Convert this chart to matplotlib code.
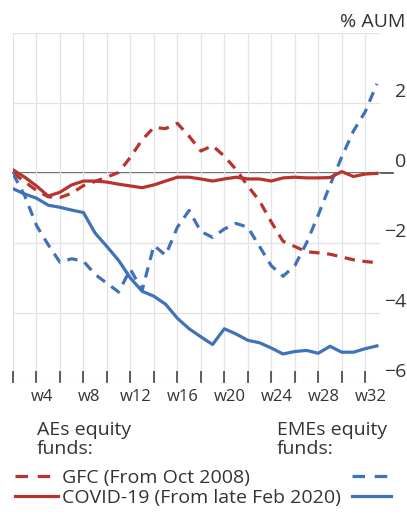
import numpy as np
import matplotlib
matplotlib.use('Agg')
import matplotlib.pyplot as plt
from matplotlib.lines import Line2D
from matplotlib.transforms import ScaledTranslation

plt.rcParams['font.family'] = ['Open Sans', 'DejaVu Sans']
plt.rcParams['lines.scale_dashes'] = False

# weekly data, % of AUM
weeks = np.arange(1, 33)
aes_gfc = [0.0, -0.25, -0.5, -0.68, -0.7, -0.58, -0.36, -0.24, -0.12, 0.02, 0.45, 0.95,
           1.3, 1.27, 1.42, 1.05, 0.63, 0.78, 0.48, 0.1, -0.37, -0.8, -1.4, -1.95,
           -2.1, -2.25, -2.28, -2.32, -2.4, -2.48, -2.53, -2.56]
aes_covid = [0.09, -0.12, -0.37, -0.66, -0.55, -0.34, -0.23, -0.23, -0.26, -0.32, -0.37, -0.42,
             -0.34, -0.23, -0.12, -0.12, -0.17, -0.23, -0.17, -0.12, -0.17, -0.17, -0.23, -0.14,
             -0.12, -0.14, -0.14, -0.13, 0.04, -0.1, -0.03, -0.01]
emes_gfc = [-0.02, -0.65, -1.5, -2.05, -2.55, -2.45, -2.52, -2.9, -3.15, -3.4, -2.75, -3.35,
            -2.07, -2.35, -1.55, -1.07, -1.67, -1.84, -1.6, -1.44, -1.55, -2.1, -2.65, -2.95,
            -2.65, -2.0, -1.2, -0.35, 0.46, 1.2, 1.75, 2.55]
emes_covid = [-0.45, -0.6, -0.72, -0.92, -0.98, -1.06, -1.13, -1.72, -2.1, -2.5, -3.0, -3.38,
              -3.52, -3.75, -4.15, -4.45, -4.68, -4.9, -4.45, -4.6, -4.78, -4.85, -5.0, -5.17,
              -5.1, -5.07, -5.15, -4.95, -5.12, -5.12, -5.02, -4.94]

xtick_weeks = [4, 8, 12, 16, 20, 24, 28, 32]
xtick_labels = ['w%d' % w for w in xtick_weeks]
yticks = [-6, -4, -2, 0, 2, 4]
ytick_labels = ['\u22126', '\u22124', '\u22122', '0', '2', '']

red = '#b8332e'
blue = '#3f72b8'
txt = '#333333'
dash = (0, (7.5, 5.5))
leg_dash = (0, (9, 7))
lw = 2.3

fig = plt.figure(figsize=(4.07, 5.18), dpi=100)
ax = fig.add_axes([13/407, 1 - 383/518, 367/407, 350/518])

ax.plot(weeks, aes_gfc, color=red, lw=lw, linestyle=dash)
ax.plot(weeks, emes_gfc, color=blue, lw=lw, linestyle=dash)
ax.plot(weeks, aes_covid, color=red, lw=lw)
ax.plot(weeks, emes_covid, color=blue, lw=lw)

ax.axhline(0, color='#444444', lw=1.2, zorder=1, xmax=1.035, clip_on=False)

ax.set_xlim(1, 32.26)
ax.set_ylim(-6, 4)
for s in ax.spines.values():
    s.set_visible(False)

ax.set_xticks(np.arange(1, 32, 2), minor=True)
ax.set_xticks(xtick_weeks, labels=xtick_labels)
ax.tick_params(axis='x', which='major', length=0, pad=4, labelsize=12, labelcolor=txt)
ax.tick_params(axis='x', which='minor', direction='in', length=8.5, width=1.2, color='#444444')
ax.grid(True, axis='x', which='minor', color='#e3e3e3', lw=0.9)
for lab in ax.get_xticklabels():
    lab.set_transform(lab.get_transform() + ScaledTranslation(-6/100, 0, fig.dpi_scale_trans))

ax.yaxis.tick_right()
ax.set_yticks(yticks, labels=ytick_labels)
ax.tick_params(axis='y', length=0, pad=26/1.389, labelsize=14, labelcolor=txt)
ax.grid(True, axis='y', color='#e3e3e3', lw=0.9)
for lab in ax.get_yticklabels():
    lab.set_horizontalalignment('right')
    lab.set_transform(lab.get_transform() + ScaledTranslation(0, 13/100, fig.dpi_scale_trans))

fig.text(405/407, 1 - 22/518, '% AUM', ha='right', va='center', fontsize=14, color=txt)

# legend
fig.text(37/407, 1 - 421/518, 'AEs equity\nfunds:', ha='left', va='top', fontsize=14,
         color=txt, linespacing=1.05)
fig.text(277/407, 1 - 421/518, 'EMEs equity\nfunds:', ha='left', va='top', fontsize=14,
         color=txt, linespacing=1.05)
h_red = [Line2D([], [], color=red, lw=lw, linestyle=leg_dash), Line2D([], [], color=red, lw=lw)]
h_blue = [Line2D([], [], color=blue, lw=lw, linestyle=leg_dash), Line2D([], [], color=blue, lw=lw)]
leg1 = fig.legend(h_red, ['GFC (From Oct 2008)', 'COVID-19 (From late Feb 2020)'],
                  loc='upper left', bbox_to_anchor=(15/407, 1 - 469/518), frameon=False,
                  borderpad=0, borderaxespad=0, handlelength=2.2, handletextpad=0.2,
                  labelspacing=0.1, fontsize=14, labelcolor=txt)
leg2 = fig.legend(h_blue, ['', ''],
                  loc='upper left', bbox_to_anchor=(352/407, 1 - 469/518), frameon=False,
                  borderpad=0, borderaxespad=0, handlelength=2.0, handletextpad=0,
                  labelspacing=0.1, fontsize=14)

fig.savefig('out.png', dpi=100, facecolor='white')
